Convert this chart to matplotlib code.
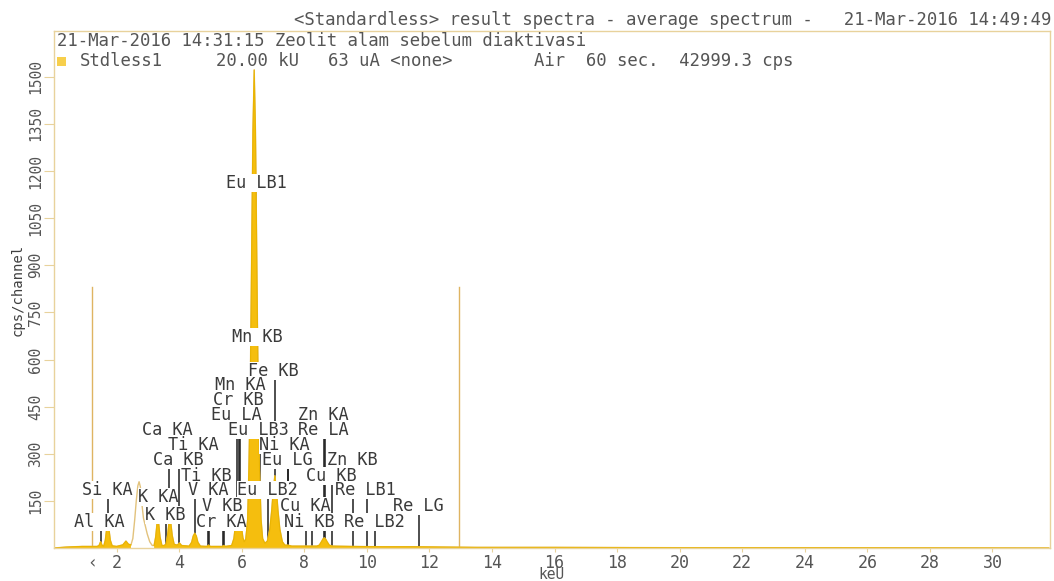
import matplotlib
matplotlib.use("Agg")
import matplotlib.pyplot as plt

# spectrum outline (keV, cps/channel)
energy = [0.00, 0.40, 0.90, 1.20, 1.38,
          1.44, 1.49, 1.54,
          1.59, 1.64, 1.68, 1.72, 1.76, 1.80, 1.86,
          2.00, 2.20, 2.30, 2.38, 2.46,
          2.52, 2.58, 2.63, 2.68, 2.72, 2.76, 2.81, 2.86, 2.92, 2.98, 3.06, 3.14,
          3.20, 3.25, 3.29, 3.32, 3.35, 3.39, 3.45,
          3.52,
          3.58, 3.63, 3.67, 3.71, 3.74, 3.78, 3.84,
          3.94, 4.01, 4.08,
          4.32, 4.40, 4.45, 4.50, 4.55, 4.60, 4.68,
          4.88, 4.94, 5.00,
          5.38, 5.43, 5.48,
          5.68, 5.75, 5.81, 5.86, 5.90, 5.94, 5.99, 6.04, 6.08,
          6.13, 6.19, 6.23, 6.27, 6.30, 6.33, 6.36, 6.40, 6.44, 6.47, 6.50, 6.53, 6.57, 6.62, 6.67, 6.74,
          6.82, 6.90, 6.96, 7.01, 7.06, 7.11, 7.16, 7.22, 7.30, 7.38,
          7.48, 7.60, 8.00, 8.40,
          8.48, 8.55, 8.60, 8.64, 8.68, 8.73, 8.80, 8.90,
          9.5, 10.5, 11.5, 12.5, 13.5, 16.0, 20.0, 25.0, 31.8]
cps = [0, 3, 5, 5, 5,
       8, 20, 8,
       6, 25, 58, 80, 58, 25, 7,
       5, 10, 22, 12, 10,
       30, 90, 150, 198, 211, 195, 140, 95, 70, 45, 20, 8,
       8, 35, 75, 89, 75, 35, 8,
       8,
       12, 40, 75, 89, 75, 40, 12,
       9, 16, 8,
       6, 18, 38, 47, 38, 18, 6,
       5, 9, 5,
       5, 8, 5,
       8, 30, 80, 112, 121, 112, 70, 32, 20,
       28, 90, 250, 480, 750, 1050, 1330, 1522, 1330, 1050, 750, 480, 250, 90, 30, 15,
       22, 60, 120, 185, 230, 185, 120, 60, 20, 9,
       9, 6, 6, 6,
       9, 20, 29, 32, 29, 20, 9, 6,
       5, 4, 4, 3, 2, 2, 1, 1, 0]

# unidentified peak, drawn as outline only
hollow_lo, hollow_hi = 2.47, 3.17

# region markers
roi_kev = [1.23, 12.96]
roi_cps = 830

# identified lines: element, line, line energy, label position (keV, cps)
mark_el = ["Al", "Si", "K", "K", "Ca", "Ca", "Ti", "Ti", "V", "V",
           "Cr", "Cr", "Mn", "Mn", "Fe", "Eu", "Eu", "Eu", "Eu", "Eu",
           "Ni", "Ni", "Cu", "Cu", "Zn", "Zn", "Re", "Re", "Re", "Re"]
mark_line = ["KA", "KA", "KA", "KB", "KA", "KB", "KA", "KB", "KA", "KB",
             "KA", "KB", "KA", "KB", "KB", "LA", "LB1", "LB2", "LB3", "LG",
             "KA", "KB", "KA", "KB", "KA", "KB", "LA", "LB1", "LB2", "LG"]
mark_kev = [1.49, 1.74, 3.31, 3.59, 3.69, 4.01, 4.51, 4.93, 4.95, 5.43,
            5.41, 5.95, 5.90, 6.49, 7.06, 5.85, 6.46, 6.84, 6.57, 7.48,
            7.48, 8.26, 8.05, 8.90, 8.64, 9.57, 8.65, 10.01, 10.27, 11.68]
label_kev = [1.46, 1.70, 3.17, 3.40, 3.62, 3.99, 4.45, 4.89, 4.77, 5.23,
             5.35, 5.90, 5.96, 6.49, 7.02, 5.83, 6.31, 6.67, 6.38, 7.45,
             7.36, 8.17, 8.04, 8.87, 8.62, 9.55, 8.63, 9.79, 10.08, 11.66]
label_cps = [83, 185, 162, 105, 376, 280, 328, 229, 185, 134,
             83, 471, 519, 672, 564, 424, 1162, 185, 376, 280,
             328, 83, 134, 229, 424, 280, 376, 185, 83, 134]

xticks = [2, 4, 6, 8, 10, 12, 14, 16, 18, 20, 22, 24, 26, 28, 30]
yticks = [150, 300, 450, 600, 750, 900, 1050, 1200, 1350, 1500]

header_top = "<Standardless> result spectra - average spectrum -   21-Mar-2016 14:49:49"
header_run = "21-Mar-2016 14:31:15 Zeolit alam sebelum diaktivasi"
header_cond = ["Stdless1", "20.00 kU", "63 uA <none>", "Air  60 sec.  42999.3 cps"]

W, H = 1054, 581
MONO = "DejaVu Sans Mono"
GOLD = "#f5be0e"
TAN = "#e2c27c"
FRAME = "#e8d29c"
INK = "#3a3a3a"
GREY = "#555555"

plt.rcParams["font.family"] = MONO

fig = plt.figure(figsize=(W / 100, H / 100), dpi=100)
ax = fig.add_axes([54 / W, 1 - 548 / H, (1050 - 54) / W, (548 - 31) / H])
ax.set_xlim(0, 31.84)
ax.set_ylim(0, 1646)


def fx(x):
    return x / W


def fy(y):
    return 1 - y / H


# marker lines sit under the spectrum
for e, lc in zip(mark_kev, label_cps):
    ax.plot([e, e], [0, lc - 18], color="#1e1e1e", lw=1.1, zorder=1.5)

# region markers
for e in roi_kev:
    ax.plot([e, e], [0, roi_cps], color="#dfb462", lw=1.0, zorder=1)

# spectrum
ax.plot(energy, cps, color=TAN, lw=1.0, zorder=2)
mask = [not (hollow_lo < e < hollow_hi) for e in energy]
ax.fill_between(energy, 0, cps, where=mask, color=GOLD, lw=0, zorder=2)
ax.plot([e if m else None for e, m in zip(energy, mask)],
        [c if m else None for c, m in zip(cps, mask)], color="#eab400", lw=0.8, zorder=2)

# labels on white boxes, upper rows first; the gap sits over label_kev
fs = 12.2
cw = 0.602 * fs
order = sorted(range(len(mark_el)), key=lambda i: -label_cps[i])
for i in order:
    el = mark_el[i]
    ax.annotate(f"{el} {mark_line[i]}", (label_kev[i], label_cps[i]),
                xytext=(-(len(el) + 0.5) * cw, 0),
                textcoords="offset points", ha="left", va="center",
                fontsize=fs, color=INK, zorder=4,
                bbox=dict(boxstyle="square,pad=0", fc="white", ec="none"))

# axes styling
for s in ax.spines.values():
    s.set_color(FRAME)
    s.set_linewidth(1.0)
ax.set_xticks(xticks)
ax.set_yticks(yticks)
ax.tick_params(axis="x", length=3, width=0.8, color=FRAME, pad=1,
               labelsize=12, labelcolor=GREY)
ax.tick_params(axis="y", length=7, width=0.8, color=FRAME, pad=1,
               labelsize=10.5, labelcolor=GREY, labelrotation=90)
for t in ax.get_yticklabels():
    t.set_va("center")
ax.set_xlabel("keU", fontsize=10.5, color=GREY, labelpad=-3.5)
ax.set_ylabel("cps/channel", fontsize=10, color="#404040", labelpad=2)
ax.text(roi_kev[0], -0.012, "\u2039", transform=ax.get_xaxis_transform(),
        ha="center", va="top", fontsize=12, color=GREY)

# header rows
fig.text(fx(1051), fy(20), header_top, ha="right", va="center",
         fontsize=12.4, color=GREY)
fig.text(fx(57), fy(41), header_run, ha="left", va="center",
         fontsize=12.4, color=GREY)
fig.patches.append(plt.Rectangle((fx(57), fy(66)), 9 / W, 9 / H,
                                 transform=fig.transFigure, fc="#f7cf4c", ec="none"))
for x, s in zip([80, 216, 328, 534], header_cond):
    fig.text(fx(x), fy(61), s, ha="left", va="center", fontsize=12.4, color=GREY)

fig.savefig("out.png", dpi=100)
